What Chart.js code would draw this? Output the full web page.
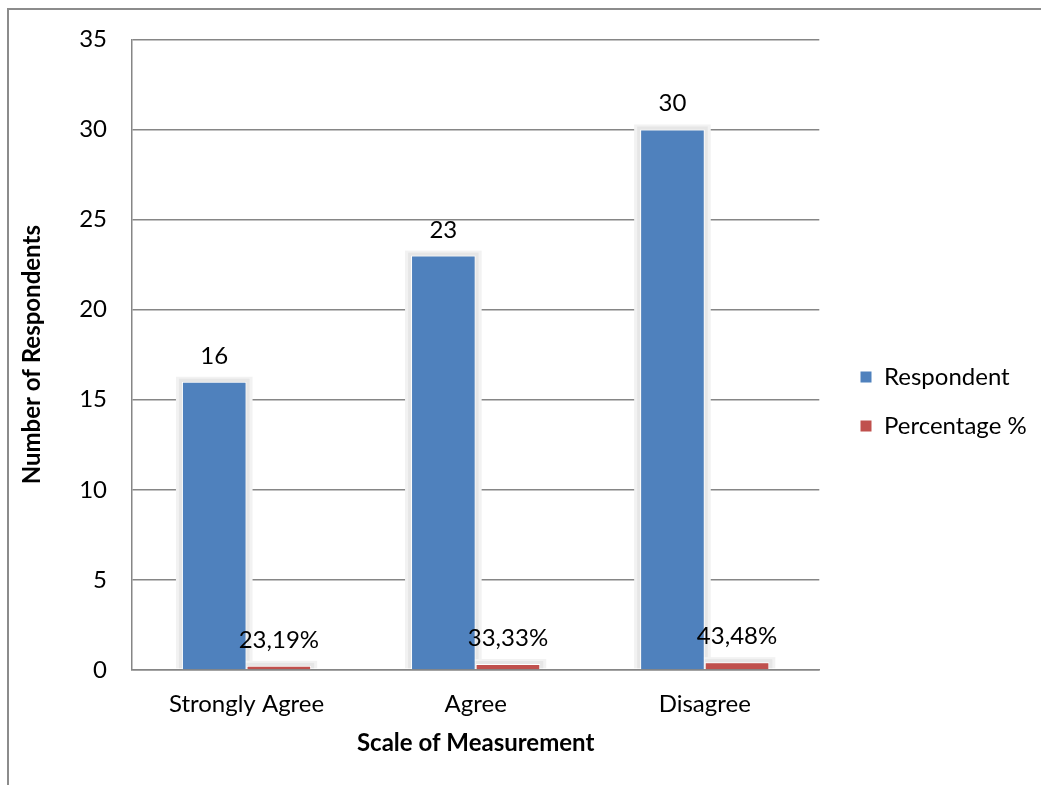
<!DOCTYPE html>
<html>
<head>
<meta charset="utf-8">
<title>Scale of Measurement</title>
<script src="https://cdn.jsdelivr.net/npm/chart.js@4.4.0/dist/chart.umd.min.js"></script>
<style>
  html, body { margin: 0; padding: 0; background: #fff; overflow: hidden; }
  #frame {
    position: absolute; left: 7px; top: 8px; width: 1200px; height: 900px;
    border-left: 2px solid #8c8c8c; border-top: 2px solid #8c8c8c;
  }
  #wrap { position: absolute; left: 0; top: 0; width: 1041px; height: 785px; }
</style>
</head>
<body>
<div id="frame"></div>
<div id="wrap"><canvas id="chart"></canvas></div>
<script>
// Survey results per answer
const categories = ['Strongly Agree', 'Agree', 'Disagree'];
const respondents = [16, 23, 30];
const percentages = [0.2319, 0.3333, 0.4348];
const yMin = 0;
const yMax = 35;
const yStep = 5;

const FONT = 'Lato, "Open Sans", sans-serif';
const GRID = '#868686';

// Value labels: count for respondents, "23,19%" style for the share
function formatValue(datasetIndex, v) {
  if (datasetIndex === 0) return String(v);
  return (v * 100).toFixed(2).replace('.', ',') + '%';
}

// Soft grey halo behind every bar
const barShadow = {
  id: 'barShadow',
  beforeDatasetsDraw(chart) {
    const ctx = chart.ctx;
    ctx.save();
    chart.data.datasets.forEach((ds, i) => {
      chart.getDatasetMeta(i).data.forEach(bar => {
        const l = bar.x - bar.width / 2;
        ctx.fillStyle = '#f2f2f2';
        ctx.fillRect(l - 6, bar.y - 5, bar.width + 12, bar.base - bar.y + 4);
        ctx.fillStyle = '#e6e6e6';
        ctx.fillRect(l - 3, bar.y - 3, bar.width + 6, bar.base - bar.y + 2);
      });
    });
    ctx.restore();
  }
};

// Numbers printed above the bars
const barValues = {
  id: 'barValues',
  afterDatasetsDraw(chart) {
    const ctx = chart.ctx;
    ctx.save();
    ctx.font = '24px ' + FONT;
    ctx.fillStyle = '#000';
    ctx.textAlign = 'center';
    ctx.textBaseline = 'alphabetic';
    chart.data.datasets.forEach((ds, i) => {
      chart.getDatasetMeta(i).data.forEach((bar, j) => {
        ctx.fillText(formatValue(i, ds.data[j]), bar.x, bar.y - 18);
      });
    });
    ctx.restore();
  }
};

// Legend sits right of the plot, first entry centred at y = 377
const legendPlace = {
  id: 'legendPlace',
  afterLayout(chart) {
    const lg = chart.legend;
    if (!lg || !lg.legendHitBoxes || !lg.legendHitBoxes.length) return;
    const pad = lg.options.labels.padding;
    const dx = 860 - (lg.left + pad);
    lg.left += dx;
    lg.right += dx;
    const itemH = lg.legendHitBoxes[0].height;
    const h = lg.bottom - lg.top;
    lg.top = 377 - itemH / 2 - pad;
    lg.bottom = lg.top + h;
  }
};

new Chart(document.getElementById('chart'), {
  type: 'bar',
  data: {
    labels: categories,
    datasets: [
      {
        label: 'Respondent',
        data: respondents,
        backgroundColor: '#4F81BD',
        borderColor: '#ffffff',
        borderWidth: 1,
        categoryPercentage: 0.564,
        barPercentage: 1.0
      },
      {
        label: 'Percentage %',
        data: percentages,
        backgroundColor: '#C0504D',
        borderColor: '#ffffff',
        borderWidth: 1,
        categoryPercentage: 0.564,
        barPercentage: 1.0
      }
    ]
  },
  options: {
    responsive: true,
    maintainAspectRatio: false,
    animation: false,
    layout: { padding: { top: 39, right: 20, left: 0, bottom: 0 } },
    plugins: {
      legend: {
        position: 'right',
        align: 'start',
        labels: {
          boxWidth: 12,
          boxHeight: 12,
          padding: 25,
          color: '#000',
          font: { family: FONT, size: 24 }
        }
      },
      tooltip: { enabled: false }
    },
    scales: {
      x: {
        grid: { display: false, drawTicks: false },
        border: { display: true, color: GRID, width: 1.5 },
        ticks: { color: '#000', padding: 20, font: { family: FONT, size: 24 } },
        title: {
          display: true,
          text: 'Scale of Measurement',
          color: '#000',
          padding: { top: 0, bottom: 27 },
          font: { family: FONT, size: 24, weight: 'bold' }
        },
        afterFit(scale) { scale.height = 115; }
      },
      y: {
        min: yMin,
        max: yMax,
        grid: { color: GRID, lineWidth: 1.5, drawTicks: false },
        border: { display: true, color: GRID, width: 1.5 },
        ticks: { stepSize: yStep, color: '#000', padding: 25, font: { family: FONT, size: 24 } },
        title: {
          display: true,
          text: 'Number of Respondents',
          color: '#000',
          padding: { top: 18, bottom: 0 },
          font: { family: FONT, size: 24, weight: 'bold' }
        },
        afterFit(scale) { scale.width = 132; }
      }
    }
  },
  plugins: [barShadow, barValues, legendPlace]
});
</script>
</body>
</html>
